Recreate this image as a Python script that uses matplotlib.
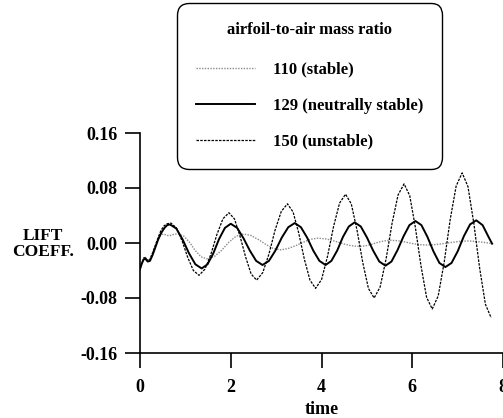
import numpy as np
import matplotlib
matplotlib.use("Agg")
import matplotlib.pyplot as plt

plt.rcParams['font.family'] = ['Liberation Serif', 'DejaVu Serif']
plt.rcParams['font.weight'] = 'bold'

# mass ratio 110 (stable)
t_110 = [0.0, 0.04, 0.08, 0.12, 0.17, 0.22, 0.28, 0.34, 0.40, 0.46, 0.52, 0.60, 0.68, 0.76, 0.84,
         0.966, 1.092, 1.218, 1.344, 1.47, 1.632, 1.794, 1.956, 2.118, 2.28,
         2.444, 2.608, 2.772, 2.936, 3.10, 3.264, 3.428, 3.592, 3.756, 3.92,
         4.102, 4.284, 4.466, 4.648, 4.83, 4.968, 5.106, 5.244, 5.382, 5.52,
         5.676, 5.832, 5.988, 6.144, 6.30, 6.49, 6.68, 6.87, 7.06, 7.25, 7.45, 7.62, 7.76]
cl_110 = [-0.038, -0.029, -0.022, -0.021, -0.025, -0.023, -0.014, -0.004, 0.006, 0.012, 0.013, 0.011, 0.011, 0.013, 0.013,
          0.010, 0.001, -0.011, -0.020, -0.023, -0.020, -0.011, 0.001, 0.010, 0.013,
          0.011, 0.005, -0.002, -0.008, -0.010, -0.008, -0.004, 0.001, 0.0054, 0.007,
          0.0059, 0.0029, -0.0009, -0.0039, -0.005, -0.0041, -0.0019, 0.0009, 0.0031, 0.004,
          0.0033, 0.0016, -0.0006, -0.0023, -0.003, -0.0024, -0.0009, 0.0009, 0.0024, 0.003, 0.002, 0.0005, -0.001]

# mass ratio 129 (neutrally stable)
t_129 = [0.0, 0.04, 0.08, 0.12, 0.17, 0.22, 0.28, 0.34, 0.40, 0.47, 0.54, 0.60, 0.66,
         0.80, 0.94, 1.08, 1.22, 1.36, 1.488, 1.616, 1.744, 1.872, 2.0,
         2.14, 2.28, 2.42, 2.56, 2.70, 2.842, 2.984, 3.126, 3.268, 3.41,
         3.546, 3.682, 3.818, 3.954, 4.09, 4.218, 4.346, 4.474, 4.602, 4.73,
         4.866, 5.002, 5.138, 5.274, 5.41, 5.542, 5.674, 5.806, 5.938, 6.07,
         6.202, 6.334, 6.466, 6.598, 6.73, 6.866, 7.002, 7.138, 7.274, 7.41,
         7.55, 7.68, 7.76]
cl_129 = [-0.038, -0.030, -0.024, -0.023, -0.027, -0.026, -0.017, -0.006, 0.005, 0.015, 0.022, 0.026, 0.027,
          0.021, 0.005, -0.015, -0.031, -0.037, -0.031, -0.015, 0.006, 0.022, 0.028,
          0.022, 0.007, -0.011, -0.026, -0.032, -0.026, -0.011, 0.008, 0.023, 0.029,
          0.023, 0.008, -0.011, -0.026, -0.032, -0.026, -0.011, 0.009, 0.024, 0.030,
          0.024, 0.008, -0.011, -0.027, -0.033, -0.027, -0.0105, 0.0095, 0.026, 0.032,
          0.026, 0.009, -0.012, -0.029, -0.035, -0.029, -0.012, 0.010, 0.027, 0.033,
          0.026, 0.009, -0.001]

# mass ratio 150 (unstable)
t_150 = [0.0, 0.04, 0.08, 0.12, 0.17, 0.22, 0.28, 0.34, 0.40, 0.46, 0.53, 0.60, 0.68,
         0.804, 0.928, 1.052, 1.176, 1.30, 1.432, 1.564, 1.696, 1.828, 1.96,
         2.082, 2.204, 2.326, 2.448, 2.57, 2.706, 2.842, 2.978, 3.114, 3.25,
         3.374, 3.498, 3.622, 3.746, 3.87, 4.002, 4.134, 4.266, 4.398, 4.53,
         4.656, 4.782, 4.908, 5.034, 5.16, 5.292, 5.424, 5.556, 5.688, 5.82,
         5.944, 6.068, 6.192, 6.316, 6.44, 6.572, 6.704, 6.836, 6.968, 7.10,
         7.228, 7.356, 7.484, 7.612, 7.74]
cl_150 = [-0.038, -0.029, -0.022, -0.021, -0.026, -0.024, -0.014, -0.003, 0.008, 0.018, 0.025, 0.028, 0.029,
          0.022, 0.003, -0.021, -0.040, -0.047, -0.038, -0.016, 0.0126, 0.0353, 0.044,
          0.035, 0.010, -0.020, -0.045, -0.054, -0.043, -0.016, 0.019, 0.046, 0.057,
          0.045, 0.0145, -0.0235, -0.054, -0.066, -0.053, -0.019, 0.024, 0.058, 0.071,
          0.057, 0.019, -0.028, -0.066, -0.080, -0.064, -0.023, 0.029, 0.070, 0.086,
          0.069, 0.023, -0.033, -0.079, -0.096, -0.077, -0.028, 0.034, 0.083, 0.102,
          0.082, 0.029, -0.036, -0.089, -0.109]

labels = ['110 (stable)', '129 (neutrally stable)', '150 (unstable)']
xticks = [0, 2, 4, 6, 8]
yticks = [-0.16, -0.08, 0.00, 0.08, 0.16]

fig = plt.figure(figsize=(5.03, 4.18), dpi=100)
ax = fig.add_axes([140 / 503, 65 / 418, 363 / 503, 220 / 418])

ax.plot(t_110, cl_110, color='#8a8a8a', lw=1.0, dashes=(1, 1), label=labels[0])
ax.plot(t_129, cl_129, color='black', lw=1.4, label=labels[1])
ax.plot(t_150, cl_150, color='black', lw=0.9, dashes=(2, 1), label=labels[2])

ax.set_xlim(0, 8)
ax.set_ylim(-0.16, 0.16)
ax.set_xticks(xticks)
ax.set_xticklabels([str(x) for x in xticks])
ax.set_yticks(yticks)
ax.set_yticklabels(['%.2f' % y for y in yticks])

for s in ['top', 'right']:
    ax.spines[s].set_visible(False)
for s in ['left', 'bottom']:
    ax.spines[s].set_linewidth(1.2)
ax.tick_params(axis='both', direction='out', length=11, width=1.2, labelsize=13)
ax.tick_params(axis='y', pad=5)
ax.tick_params(axis='x', pad=8)

ax.set_xlabel('time', fontsize=13, fontweight='bold', labelpad=3)
fig.text(43 / 503, 1 - 244 / 418, 'LIFT\nCOEFF.', ha='center', va='center',
         fontsize=12.5, fontweight='bold', linespacing=1.0)

leg = ax.legend(loc='upper left', bbox_to_anchor=(177 / 503, 1 - 3 / 418),
                bbox_transform=fig.transFigure, borderaxespad=0,
                title='airfoil-to-air mass ratio', fontsize=12,
                title_fontproperties={'weight': 'bold', 'size': 12},
                handlelength=3.5, handletextpad=1.1, labelspacing=1.2,
                borderpad=1.15, fancybox=True, edgecolor='black', framealpha=1)
leg.get_frame().set_linewidth(1.0)
leg.get_frame().set_boxstyle('round,pad=0,rounding_size=0.7')
leg._legend_box.sep = 17
for txt in leg.get_texts():
    txt.set_fontweight('bold')

fig.savefig('out.png', dpi=100)
